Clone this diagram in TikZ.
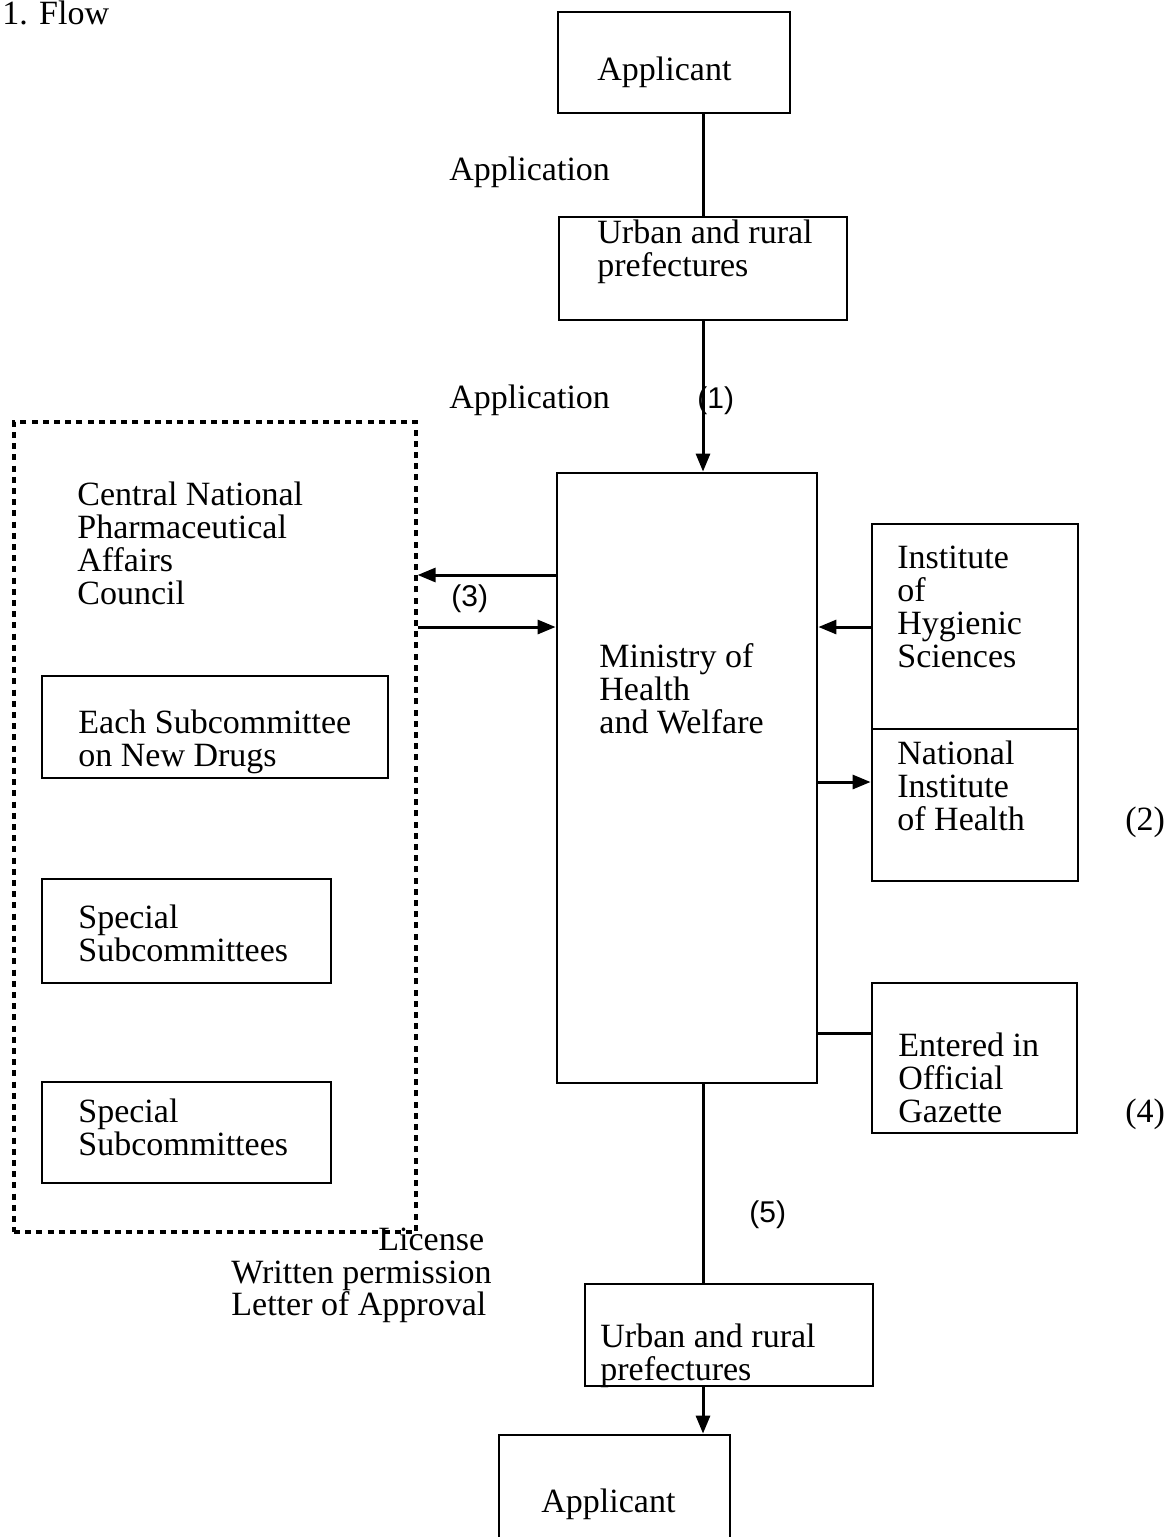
\documentclass[tikz,border=0pt]{standalone}
\usepackage{fontspec}
\setmainfont{Liberation Serif}
\newfontfamily\sansf{Liberation Sans}
\usetikzlibrary{arrows.meta,fit}
\begin{document}
\begin{tikzpicture}[x=0.5pt,y=-0.5pt,
 box/.style={draw, line width=1.4pt, inner sep=0pt},
 dotbox/.style={draw, line width=1.6pt, dash pattern=on 3pt off 2.6pt, inner sep=0pt},
 lbl/.style={anchor=base west, inner sep=0pt, font=\fontsize{17}{16.5}\selectfont, align=left},
 slbl/.style={anchor=base west, inner sep=0pt, font=\sansf\fontsize{15}{16.5}\selectfont},
 conn/.style={line width=1.5pt},
 arr/.style={conn, -{Triangle[length=9pt,width=7pt]}},
]
\useasboundingbox (0,0) rectangle (1171,1537);
\clip (0,0) rectangle (1171,1537);

\coordinate (spine) at (703,0);

% boxes
\node[box, fit={(558,12)(790,113)}] (app1) {};
\node[box, fit={(559,217)(847,320)}] (urb1) {};
\node[box, fit={(557,473)(817,1083)}] (min) {};
\node[dotbox, fit={(14,422)(416,1232)}] (council) {};
\node[box, fit={(42,676)(388,778)}] (each) {};
\node[box, fit={(42,879)(331,983)}] (spec1) {};
\node[box, fit={(42,1082)(331,1183)}] (spec2) {};
\node[box, fit={(872,524)(1078,729)}] (inst) {};
\node[box, fit={(872,729)(1078,881)}] (nih) {};
\node[box, fit={(872,983)(1077,1133)}] (gaz) {};
\node[box, fit={(585,1284)(873,1386)}] (urb2) {};
\node[box, fit={(499,1435)(730,1600)}] (app2) {};

% texts (multi-line nodes: base = last line)
\node[lbl] (title) at (2,24) {1. Flow};
\node[lbl] (tapp1) at (597,80) {Applicant};
\node[lbl] (tappl1) at (449,180) {Application};
\node[lbl] (turb1) at (597,276) {Urban and rural\\prefectures};
\node[lbl] (tappl2) at (449,408) {Application};
\node[slbl] (n1) at (697,408) {(1)};
\node[lbl] (tcouncil) at (77,604) {Central National\\Pharmaceutical\\Affairs\\Council};
\node[slbl] (n3) at (451,606) {(3)};
\node[lbl] (tmin) at (599,733) {Ministry of\\Health\\and Welfare};
\node[lbl] (teach) at (78,766) {Each Subcommittee\\on New Drugs};
\node[lbl] (tspec1) at (78,961) {Special\\Subcommittees};
\node[lbl] (tspec2) at (78,1155) {Special\\Subcommittees};
\node[lbl] (tinst) at (897,667) {Institute\\of\\Hygienic\\Sciences};
\node[lbl] (tnih) at (897,830) {National\\Institute\\of Health};
\node[lbl] (n2) at (1125,830) {(2)};
\node[lbl] (tgaz) at (898,1122) {Entered in\\Official\\Gazette};
\node[lbl] (n4) at (1125,1122) {(4)};
\node[slbl] (n5) at (749,1222) {(5)};
\node[lbl] (tlic) at (378,1250) {License};
\node[lbl] (twp) at (231,1283) {Written permission};
\node[lbl] (tloa) at (231,1315) {Letter of Approval};
\node[lbl] (turb2) at (600,1380) {Urban and rural\\prefectures};
\node[lbl] (tapp2) at (541,1512) {Applicant};

% connectors
\draw[conn] (app1.south -| spine) -- (urb1.north -| spine);
\draw[arr] (urb1.south -| spine) -- (min.north -| spine);
\draw[arr] (min.west |- 0,575) -- (council.east |- 0,575);
\draw[arr] (council.east |- 0,627) -- (min.west |- 0,627);
\draw[arr] (inst.west |- 0,627) -- (min.east |- 0,627);
\draw[arr] (min.east |- 0,782) -- (nih.west |- 0,782);
\draw[conn] (min.east |- 0,1033) -- (gaz.west |- 0,1033);
\draw[conn] (min.south -| spine) -- (urb2.north -| spine);
\draw[arr] (urb2.south -| spine) -- (app2.north -| spine);
\end{tikzpicture}
\end{document}
